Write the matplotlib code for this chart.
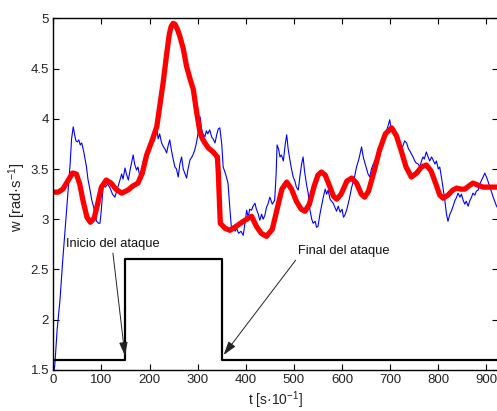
import matplotlib
matplotlib.use("Agg")
import matplotlib.pyplot as plt

plt.rcParams['font.family'] = ['Liberation Sans', 'DejaVu Sans']
plt.rcParams['mathtext.default'] = 'regular'

# Attack window (square signal)
attack_t = [0, 150, 150, 350, 350, 930]
attack_level = [1.6, 1.6, 2.6, 2.6, 1.6, 1.6]

# Measured angular speed (noisy signal)
w_t = [2, 3.5, 8, 14, 19, 24, 28, 31, 35, 38, 41.5, 44, 47, 50, 53, 56, 59, 63, 66, 69,
       72, 76, 80, 84, 87, 90, 94, 97, 100, 104, 108, 113, 118, 123, 128, 133, 138.5, 142,
       145, 149, 152, 156, 160, 163, 166, 169, 173, 176, 180, 184, 188, 191, 194, 198, 202,
       206, 210, 215, 218, 221, 225, 229, 232, 235.5, 239, 242, 245, 249, 252.7, 256, 259.6,
       263, 266.6, 270, 274, 277, 280, 284, 288, 291, 294, 297, 301, 305, 308, 311, 315, 318,
       321, 325, 329, 332, 336, 340, 343, 346, 350, 353, 358, 363, 367, 370.5, 374, 378, 381,
       385, 390, 394.6, 398, 401.7, 405, 408, 412, 415, 419, 422, 426, 429, 433, 436, 439.7,
       443, 446, 450, 455, 460, 463, 465, 468, 471, 474, 478, 482, 485, 488, 491.6, 495,
       498.5, 502, 505, 509, 513, 516, 519, 522, 526, 529.6, 533, 537, 540, 544, 547, 550,
       554, 558, 561, 565, 568, 571, 575, 578, 581.5, 585, 588.6, 592, 596, 600, 603, 605.8,
       610, 615, 620, 625, 630, 635, 640.5, 644, 647, 651, 654, 657.7, 661, 665, 668, 671.6,
       675, 679, 682, 685.5, 689, 692, 695, 699, 702, 705, 709, 713, 717, 720, 723.5, 727,
       730, 734, 738, 741, 744, 747.6, 751, 754, 758, 761.6, 765, 768, 771, 775, 779, 782,
       786, 789, 793, 796, 800, 803, 807, 810, 813.5, 817, 820, 824, 827, 830.7, 834, 838,
       841, 845, 848, 851.5, 855, 858, 862, 865, 869, 872, 876, 879, 882.7, 886, 889, 893,
       896.5, 900, 903, 907, 910, 914, 917, 921, 925, 930]
w_val = [1.50, 1.57, 1.90, 2.20, 2.55, 2.86, 3.10, 3.29, 3.55, 3.80, 3.92, 3.85, 3.78, 3.77,
         3.79, 3.74, 3.76, 3.68, 3.60, 3.52, 3.40, 3.30, 3.19, 3.12, 3.03, 2.98, 2.96, 2.96,
         3.10, 3.36, 3.32, 3.35, 3.31, 3.25, 3.22, 3.30, 3.39, 3.45, 3.40, 3.51, 3.45, 3.39,
         3.50, 3.57, 3.64, 3.55, 3.49, 3.52, 3.42, 3.50, 3.60, 3.55, 3.66, 3.72, 3.70, 3.80,
         3.78, 3.89, 3.80, 3.85, 3.76, 3.72, 3.70, 3.66, 3.74, 3.79, 3.70, 3.60, 3.52, 3.50,
         3.42, 3.55, 3.62, 3.50, 3.45, 3.41, 3.50, 3.59, 3.62, 3.65, 3.69, 3.75, 3.86, 4.02,
         3.90, 3.85, 3.82, 3.88, 3.85, 3.89, 3.82, 3.80, 3.76, 3.85, 3.90, 3.91, 3.75, 3.52,
         3.45, 3.36, 3.10, 2.89, 2.92, 2.88, 2.91, 2.86, 2.88, 2.84, 2.95, 3.09, 3.02, 3.10,
         3.09, 3.13, 3.16, 3.10, 3.05, 2.99, 3.05, 3.00, 3.04, 3.12, 3.15, 3.22, 3.15, 3.19,
         3.45, 3.74, 3.70, 3.62, 3.64, 3.58, 3.75, 3.84, 3.70, 3.59, 3.50, 3.42, 3.38, 3.32,
         3.29, 3.45, 3.55, 3.62, 3.48, 3.35, 3.26, 3.10, 3.00, 2.96, 2.98, 2.92, 2.93, 3.05,
         3.15, 3.22, 3.30, 3.25, 3.29, 3.20, 3.18, 3.16, 3.12, 3.08, 3.13, 3.07, 3.10, 3.02,
         3.04, 3.10, 3.20, 3.32, 3.40, 3.52, 3.60, 3.72, 3.62, 3.57, 3.50, 3.45, 3.42, 3.50,
         3.55, 3.58, 3.62, 3.70, 3.72, 3.75, 3.79, 3.82, 3.88, 3.92, 3.99, 3.90, 3.92, 3.86,
         3.80, 3.75, 3.72, 3.69, 3.74, 3.78, 3.76, 3.70, 3.68, 3.65, 3.62, 3.58, 3.56, 3.55,
         3.52, 3.58, 3.62, 3.60, 3.67, 3.62, 3.58, 3.62, 3.59, 3.55, 3.58, 3.50, 3.52, 3.40,
         3.30, 3.19, 3.05, 2.98, 3.05, 3.08, 3.13, 3.18, 3.22, 3.26, 3.22, 3.25, 3.19, 3.15,
         3.18, 3.13, 3.18, 3.22, 3.26, 3.24, 3.28, 3.29, 3.35, 3.38, 3.42, 3.46, 3.42, 3.38,
         3.32, 3.28, 3.22, 3.18, 3.13, 3.10, 3.08]

# Estimated angular speed (smooth signal)
est_t = [0, 10, 20, 30, 40, 48, 55, 62, 70, 77, 85, 92, 100, 110, 120, 130, 142, 155, 165,
         176, 185, 194, 205, 215, 228, 236, 241, 245, 249, 253, 258, 263, 270, 277, 284,
         291, 298, 305, 310, 315, 322, 332, 339, 341, 343, 345, 347, 357, 367, 380, 395,
         412, 422, 432, 443, 455, 465, 475, 485, 495, 505, 515, 523, 532, 542, 550, 557,
         565, 575, 582, 589, 598, 610, 620, 630, 640, 647, 655, 665, 678, 690, 703, 713,
         723, 733, 744, 755, 765, 775, 785, 795, 803, 810, 820, 830, 838, 847, 855, 863,
         872, 882, 893, 905, 921, 930]
est_val = [3.27, 3.27, 3.30, 3.38, 3.46, 3.45, 3.35, 3.18, 3.02, 2.97, 3.01, 3.15, 3.32,
           3.39, 3.36, 3.30, 3.26, 3.29, 3.33, 3.36, 3.46, 3.64, 3.78, 3.92, 4.35, 4.66,
           4.84, 4.92, 4.95, 4.94, 4.89, 4.82, 4.70, 4.52, 4.40, 4.29, 4.06, 3.86, 3.80,
           3.76, 3.71, 3.67, 3.63, 3.62, 3.45, 3.20, 2.96, 2.91, 2.89, 2.93, 2.98, 3.03,
           2.93, 2.86, 2.83, 2.90, 3.10, 3.30, 3.37, 3.30, 3.18, 3.10, 3.08, 3.15, 3.33,
           3.44, 3.47, 3.44, 3.32, 3.23, 3.20, 3.25, 3.38, 3.41, 3.36, 3.25, 3.22, 3.28,
           3.45, 3.69, 3.85, 3.91, 3.83, 3.68, 3.52, 3.42, 3.46, 3.52, 3.54, 3.48, 3.35,
           3.24, 3.21, 3.24, 3.29, 3.31, 3.30, 3.30, 3.33, 3.36, 3.34, 3.32, 3.32, 3.32,
           3.32]

x_ticks = [0, 100, 200, 300, 400, 500, 600, 700, 800, 900]
y_ticks = [1.5, 2, 2.5, 3, 3.5, 4, 4.5, 5]
y_tick_labels = ['1.5', '2', '2.5', '3', '3.5', '4', '4.5', '5']

fig = plt.figure(figsize=(4.97, 4.11), dpi=100)
ax = fig.add_axes([0.1072, 0.0998, 0.8958, 0.8557])

ax.plot(w_t, w_val, color='#0000ff', lw=0.8)
ax.plot(est_t, est_val, color='#ff0000', lw=3.8, solid_joinstyle='round',
        solid_capstyle='round')
ax.plot(attack_t, attack_level, color='black', lw=1.6)

ax.set_xlim(0, 925)
ax.set_ylim(1.5, 5)
ax.set_xticks(x_ticks)
ax.set_yticks(y_ticks)
ax.set_yticklabels(y_tick_labels)
ax.tick_params(direction='in', top=True, right=True, length=4, width=0.8,
               labelsize=9.5, labelcolor='#222222', pad=3)
for sp in ax.spines.values():
    sp.set_linewidth(1.0)

arrow = dict(arrowstyle='-|>,head_length=0.9,head_width=0.28', color='#222222',
             lw=0.7, shrinkA=0, shrinkB=0)
ax.annotate('Inicio del ataque', xy=(149, 1.64), xytext=(26, 2.75),
            fontsize=9.3, color='#111111', ha='left', va='center',
            arrowprops=dict(arrow, relpos=(0.5, 0.0)))
ax.annotate('Final del ataque', xy=(354, 1.65), xytext=(508, 2.68),
            fontsize=9.3, color='#111111', ha='left', va='center',
            arrowprops=dict(arrow, relpos=(0.0, 0.0)))

fig.text(17 / 497, 1 - 197 / 411, 'w [rad·s$^{-1}$]', rotation=90,
         ha='center', va='center', fontsize=10.5, color='#222222')
fig.text(275 / 497, 1 - 400 / 411, 't [s·10$^{-1}$]',
         ha='center', va='center', fontsize=10, color='#222222')

fig.savefig('out.png', dpi=100)
